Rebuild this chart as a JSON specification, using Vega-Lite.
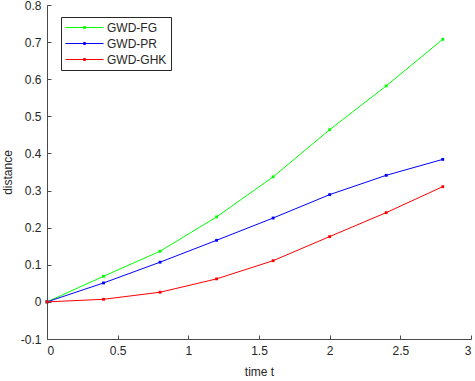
{
  "$schema": "https://vega.github.io/schema/vega-lite/v6.json",
  "width": 424,
  "height": 334,
  "autosize": "none",
  "padding": {"left": 47, "top": 5, "right": 4, "bottom": 42},
  "background": "white",
  "config": {
    "view": {"stroke": null},
    "font": "Liberation Sans",
    "axis": {
      "grid": false,
      "domainColor": "#4a4a4a",
      "tickColor": "#4a4a4a",
      "labelColor": "#262626",
      "titleColor": "#262626",
      "labelFontSize": 12,
      "titleFontSize": 12,
      "titleFontWeight": "normal",
      "tickSize": -4,
      "labelFont": "Liberation Sans",
      "titleFont": "Liberation Sans"
    }
  },
  "data": {
    "values": [
      {"t": 0, "d": 0, "s": "GWD-FG"},
      {"t": 0.4, "d": 0.069, "s": "GWD-FG"},
      {"t": 0.8, "d": 0.1365, "s": "GWD-FG"},
      {"t": 1.2, "d": 0.229, "s": "GWD-FG"},
      {"t": 1.6, "d": 0.337, "s": "GWD-FG"},
      {"t": 2.0, "d": 0.464, "s": "GWD-FG"},
      {"t": 2.4, "d": 0.582, "s": "GWD-FG"},
      {"t": 2.8, "d": 0.7075, "s": "GWD-FG"},
      {"t": 0, "d": 0, "s": "GWD-PR"},
      {"t": 0.4, "d": 0.051, "s": "GWD-PR"},
      {"t": 0.8, "d": 0.107, "s": "GWD-PR"},
      {"t": 1.2, "d": 0.166, "s": "GWD-PR"},
      {"t": 1.6, "d": 0.226, "s": "GWD-PR"},
      {"t": 2.0, "d": 0.289, "s": "GWD-PR"},
      {"t": 2.4, "d": 0.341, "s": "GWD-PR"},
      {"t": 2.8, "d": 0.384, "s": "GWD-PR"},
      {"t": 0, "d": 0, "s": "GWD-GHK"},
      {"t": 0.4, "d": 0.007, "s": "GWD-GHK"},
      {"t": 0.8, "d": 0.026, "s": "GWD-GHK"},
      {"t": 1.2, "d": 0.062, "s": "GWD-GHK"},
      {"t": 1.6, "d": 0.111, "s": "GWD-GHK"},
      {"t": 2.0, "d": 0.176, "s": "GWD-GHK"},
      {"t": 2.4, "d": 0.2405, "s": "GWD-GHK"},
      {"t": 2.8, "d": 0.3105, "s": "GWD-GHK"}
    ]
  },
  "encoding": {
    "x": {
      "field": "t", "type": "quantitative",
      "scale": {"domain": [0, 3], "nice": false, "zero": false},
      "axis": {"values": [0, 0.5, 1, 1.5, 2, 2.5, 3], "title": "time t", "labelPadding": 10, "titlePadding": 10,
               "labelExpr": "format(datum.value, '~g')"}
    },
    "y": {
      "field": "d", "type": "quantitative",
      "scale": {"domain": [-0.1, 0.8], "nice": false, "zero": false},
      "axis": {"values": [-0.1, 0, 0.1, 0.2, 0.3, 0.4, 0.5, 0.6, 0.7, 0.8], "title": "distance", "labelPadding": 10, "titlePadding": 6,
               "labelExpr": "datum.value < 0 ? '-' + format(-datum.value, '~g') : format(datum.value, '~g')"}
    },
    "color": {
      "field": "s", "type": "nominal",
      "scale": {"domain": ["GWD-FG", "GWD-PR", "GWD-GHK"], "range": ["#00ff00", "#0000ff", "#ff0000"]},
      "legend": {
        "title": null,
        "orient": "none",
        "legendX": 14,
        "legendY": 12,
        "fillColor": "white",
        "strokeColor": "#262626",
        "padding": 4,
        "symbolType": "M-1,0H1M-0.05,-0.05H0.05V0.05H-0.05Z",
        "symbolSize": 1444,
        "symbolStrokeWidth": 1,
        "clipHeight": 13,
        "rowPadding": 3,
        "labelFontSize": 12,
        "labelColor": "#262626",
        "labelOffset": 3,
        "labelFont": "Liberation Sans"
      }
    }
  },
  "layer": [
    {"mark": {"type": "line", "strokeWidth": 1}},
    {"mark": {"type": "point", "filled": true, "shape": "square", "size": 8, "opacity": 1}}
  ]
}
